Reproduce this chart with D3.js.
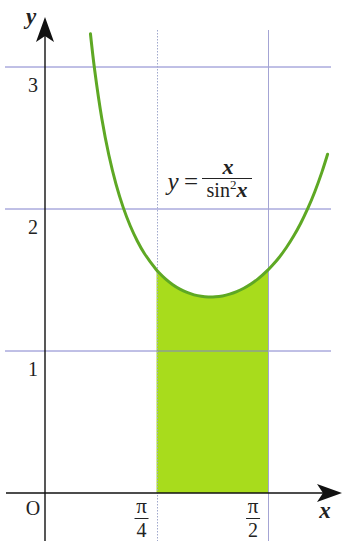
<!DOCTYPE html>
<html>
<head>
<meta charset="utf-8">
<script src="https://cdn.jsdelivr.net/npm/d3@7/dist/d3.min.js"></script>
<style>
  html, body { margin: 0; padding: 0; background: #fff; }
  svg { display: block; }
</style>
</head>
<body>
<svg id="chart" width="342" height="541" font-family="'Liberation Serif', 'Times New Roman', 'DejaVu Serif', serif"></svg>
<script>
// Sampled points of y = x / sin²x
const curveX = [0.32, 0.35, 0.40, 0.45, 0.50, 0.55, 0.60, 0.65, 0.70, 0.7854, 0.80, 0.85, 0.90, 0.95,
                1.00, 1.05, 1.10, 1.15, 1.20, 1.25, 1.30, 1.35, 1.40, 1.45, 1.50, 1.5708, 1.60, 1.65,
                1.70, 1.75, 1.80, 1.85, 1.90, 1.95, 1.99];
const curveY = [3.2339, 2.9767, 2.6377, 2.3785, 2.1753, 2.0132, 1.8819, 1.7747, 1.6867, 1.5708, 1.5546,
                1.5060, 1.4668, 1.4358, 1.4123, 1.3955, 1.3850, 1.3803, 1.3814, 1.3880, 1.4002, 1.4180,
                1.4416, 1.4714, 1.5075, 1.5708, 1.6014, 1.6604, 1.7287, 1.8074, 1.8980, 2.0020, 2.1218,
                2.2597, 2.3852];
const yTicks = [1, 2, 3];
const yTickLabels = ["1", "2", "3"];
const xMarks = [0.7854, 1.5708];       // π/4, π/2
const xMarkDen = ["4", "2"];
const shadeFrom = 0.7854, shadeTo = 1.5708;

const svg = d3.select("#chart");
const x = d3.scaleLinear().domain([0, 2]).range([45, 329]);
const y = d3.scaleLinear().domain([0, 3]).range([493, 67]);
const ink = "#222";

const pts = curveX.map((v, i) => [v, curveY[i]]);
const shadePts = pts.filter(p => p[0] >= shadeFrom - 1e-6 && p[0] <= shadeTo + 1e-6);

// shaded region under the curve
svg.append("path")
  .datum(shadePts)
  .attr("fill", "#a8dc1c")
  .attr("d", d3.area().x(d => x(d[0])).y0(y(0)).y1(d => y(d[1])).curve(d3.curveCatmullRom));

// horizontal grid lines
svg.selectAll(".grid").data(yTicks).enter().append("line")
  .attr("x1", 5).attr("x2", 331)
  .attr("y1", d => y(d)).attr("y2", d => y(d))
  .attr("stroke", "#8080cc").attr("stroke-width", 1);

// vertical reference lines at π/4 (dotted) and π/2
svg.selectAll(".vref").data(xMarks).enter().append("line")
  .attr("x1", d => Math.round(x(d)) + 0.5).attr("x2", d => Math.round(x(d)) + 0.5)
  .attr("y1", 30).attr("y2", 541)
  .attr("stroke", (d, i) => i === 0 ? "#a0a8cc" : "#a4a4d4")
  .attr("stroke-width", 1)
  .attr("stroke-dasharray", (d, i) => i === 0 ? "1.5,1.5" : null);

// axes
svg.append("line").attr("x1", 6).attr("x2", 330).attr("y1", y(0)).attr("y2", y(0))
  .attr("stroke", "#111").attr("stroke-width", 1.4);
svg.append("line").attr("x1", x(0)).attr("x2", x(0)).attr("y1", 541).attr("y2", 30)
  .attr("stroke", "#111").attr("stroke-width", 1.4);
const ox = x(0), oy = y(0);
svg.append("path")
  .attr("d", `M${ox},17 L${ox + 9},42 L${ox},36 L${ox - 9},42 Z`)
  .attr("fill", "#111");
svg.append("path")
  .attr("d", `M342,${oy} L317,${oy + 9} L323,${oy} L317,${oy - 9} Z`)
  .attr("fill", "#111");

// curve
svg.append("path")
  .datum(pts)
  .attr("fill", "none")
  .attr("stroke", "#5ea824")
  .attr("stroke-width", 3)
  .attr("stroke-linecap", "round")
  .attr("d", d3.line().x(d => x(d[0])).y(d => y(d[1])).curve(d3.curveCatmullRom));

// y tick labels
svg.selectAll(".ylab").data(yTicks).enter().append("text")
  .attr("x", 33).attr("y", d => y(d) + 25)
  .attr("text-anchor", "middle").attr("font-size", 20).attr("fill", ink)
  .text((d, i) => yTickLabels[i]);

// origin
svg.append("text").attr("x", 33).attr("y", 515)
  .attr("text-anchor", "middle").attr("font-size", 20).attr("fill", ink).text("O");

// axis names
svg.append("text").attr("x", 31).attr("y", 24)
  .attr("text-anchor", "middle").attr("font-size", 23).attr("fill", ink)
  .attr("font-style", "italic").attr("font-weight", "bold").text("y");
svg.append("text").attr("x", 325).attr("y", 518)
  .attr("text-anchor", "middle").attr("font-size", 23).attr("fill", ink)
  .attr("font-style", "italic").attr("font-weight", "bold").text("x");

// π/4 and π/2 labels
const fr = svg.selectAll(".frac").data(xMarks).enter().append("g")
  .attr("transform", d => `translate(${x(d) - 15},0)`);
fr.append("text").attr("x", 0).attr("y", 513)
  .attr("text-anchor", "middle").attr("font-size", 21).attr("fill", ink).text("π");
fr.append("line").attr("x1", -7).attr("x2", 7).attr("y1", 518.5).attr("y2", 518.5)
  .attr("stroke", ink).attr("stroke-width", 1);
fr.append("text").attr("x", 0).attr("y", 537)
  .attr("text-anchor", "middle").attr("font-size", 20).attr("fill", ink).text((d, i) => xMarkDen[i]);

// formula label
const f = svg.append("g").attr("fill", ink);
f.append("text").attr("x", 173).attr("y", 190).attr("text-anchor", "middle")
  .attr("font-size", 25).attr("font-style", "italic").text("y");
f.append("text").attr("x", 191).attr("y", 190).attr("text-anchor", "middle")
  .attr("font-size", 25).text("=");
f.append("text").attr("x", 228).attr("y", 174).attr("text-anchor", "middle")
  .attr("font-size", 22).attr("font-style", "italic").attr("font-weight", "bold").text("x");
f.append("line").attr("x1", 202).attr("x2", 252).attr("y1", 178.5).attr("y2", 178.5)
  .attr("stroke", ink).attr("stroke-width", 1.2);
f.append("text").attr("x", 227).attr("y", 197).attr("text-anchor", "middle").attr("font-size", 20)
  .call(t => {
    t.append("tspan").text("sin");
    t.append("tspan").attr("font-size", 13).attr("dy", -8).text("2");
    t.append("tspan").attr("dy", 8).attr("font-size", 22).attr("font-style", "italic")
      .attr("font-weight", "bold").text("x");
  });
</script>
</body>
</html>
